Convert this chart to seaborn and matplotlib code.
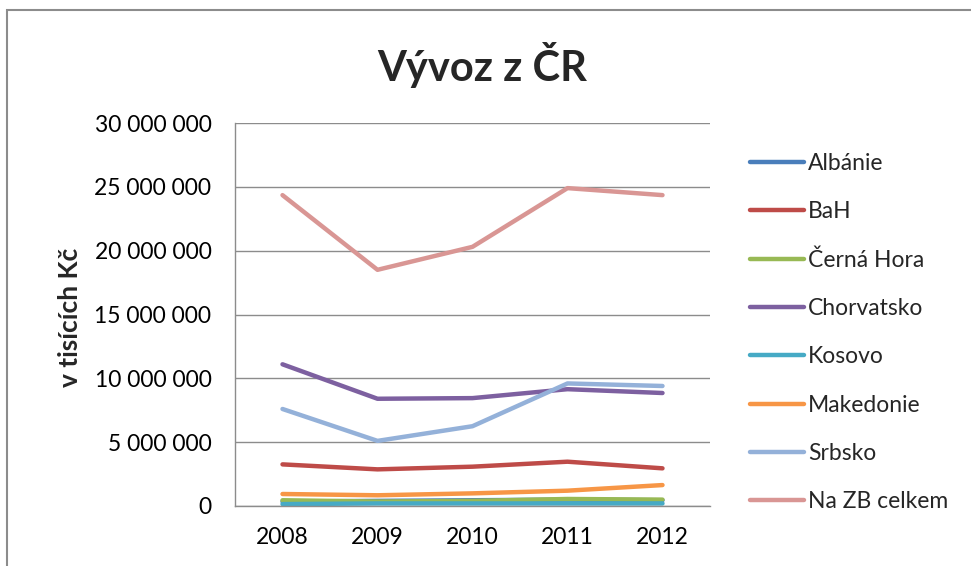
import numpy as np
import pandas as pd
import matplotlib
matplotlib.use("Agg")
import matplotlib.pyplot as plt
import seaborn as sns
from matplotlib.patches import Rectangle

years = ["2008", "2009", "2010", "2011", "2012"]
albanie = [350000, 400000, 450000, 500000, 450000]
bah = [3260000, 2870000, 3080000, 3470000, 2950000]
cerna_hora = [450000, 350000, 400000, 550000, 500000]
chorvatsko = [11100000, 8400000, 8450000, 9150000, 8850000]
kosovo = [150000, 200000, 200000, 200000, 200000]
makedonie = [940000, 840000, 990000, 1200000, 1640000]
srbsko = [7600000, 5100000, 6250000, 9600000, 9400000]
na_zb = [24350000, 18500000, 20300000, 24900000, 24350000]

series_names = ["Albánie", "BaH", "Černá Hora", "Chorvatsko", "Kosovo",
                "Makedonie", "Srbsko", "Na ZB celkem"]
series_values = [albanie, bah, cerna_hora, chorvatsko, kosovo,
                 makedonie, srbsko, na_zb]
colors = ["#4A7EBB", "#BE4B48", "#98B954", "#7D60A0", "#46AAC5",
          "#F79646", "#94B1D9", "#D99694"]

rows = []
for name, vals in zip(series_names, series_values):
    for i, (y, v) in enumerate(zip(years, vals)):
        rows.append({"idx": i, "Rok": y, "Hodnota": v, "Země": name})
df = pd.DataFrame(rows)

sns.set_theme(style="white")
plt.rcParams['font.family'] = ['Lato', 'DejaVu Sans']

fig = plt.figure(figsize=(9.71, 5.66), dpi=100)
ax = fig.add_axes([235/971, 1-506/566, 475/971, 383/566])

sns.lineplot(data=df, x="idx", y="Hodnota", hue="Země", hue_order=series_names,
             palette=colors, linewidth=3.2, ax=ax, legend=True, sort=False)

ax.set_xlim(-0.5, 4.5)
ax.set_ylim(0, 30000000)
ax.set_xticks(range(len(years)))
ax.set_xticklabels(years)
yt = np.arange(0, 30000001, 5000000)
ax.set_yticks(yt)
ax.set_yticklabels([f"{int(v):,}".replace(",", " ") for v in yt])
ax.tick_params(axis='both', labelsize=16.5, colors='black', length=0)
ax.tick_params(axis='x', pad=15)
ax.tick_params(axis='y', pad=17)
ax.yaxis.grid(True, color='#8C8C8C', linewidth=1)
ax.xaxis.grid(False)
for s in ['top', 'right']:
    ax.spines[s].set_visible(False)
for s in ['left', 'bottom']:
    ax.spines[s].set_color('#8C8C8C')
    ax.spines[s].set_linewidth(1)
ax.set_xlabel("")
ax.set_ylabel("")

fig.text(70/971, 1-317/566, "v tisících Kč", rotation=90, ha='center', va='center',
         fontsize=19, fontweight='bold')

handles, labels = ax.get_legend_handles_labels()
leg = ax.legend(handles, labels, loc='center left', bbox_to_anchor=(1.084, 0.453),
                frameon=False, fontsize=16.5, handlelength=2.35, handletextpad=0.2,
                labelspacing=1.19, borderaxespad=0, borderpad=0)
for h in leg.get_lines():
    h.set_linewidth(3.2)

fig.text(0.497, 1-65/566, "Vývoz z ČR", ha='center', va='center',
         fontsize=30, fontweight='bold')

fig.patches.append(Rectangle((7/971, -0.1), 1.1, 1-10/566 + 0.1,
                             transform=fig.transFigure, fill=False,
                             edgecolor='#8C8C8C', linewidth=1.5))

fig.savefig("out.png", dpi=100)
